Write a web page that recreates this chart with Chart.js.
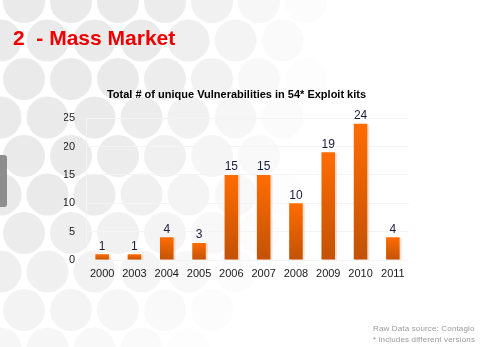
<!DOCTYPE html>
<html>
<head>
<meta charset="utf-8">
<title>Mass Market</title>
<script src="https://cdn.jsdelivr.net/npm/chart.js@4.4.1/dist/chart.umd.min.js"></script>
<style>
    html, body {
        margin: 0;
        padding: 0;
        width: 486px;
        height: 347px;
        overflow: hidden;
        background: #fff;
        font-family: "Liberation Sans", Arial, sans-serif;
    }
    #bubbles {
        position: absolute;
        left: 0;
        top: 0;
    }
    #tab {
        position: absolute;
        left: 0;
        top: 155px;
        width: 7px;
        height: 52px;
        background: #8e8e8e;
        border-radius: 0 3px 3px 0;
    }
    #heading {
        position: absolute;
        left: 13px;
        top: 26px;
        margin: 0;
        font-size: 21px;
        font-weight: bold;
        color: #ee0000;
        white-space: pre;
    }
    #chartBox {
        position: absolute;
        left: 50px;
        top: 80px;
        width: 380px;
        height: 215px;
    }
    #notes {
        position: absolute;
        left: 373px;
        top: 323px;
        font-size: 8px;
        line-height: 11px;
        letter-spacing: 0.15px;
        color: #9a9a9a;
    }
</style>
</head>
<body>
<canvas id="bubbles" width="486" height="347"></canvas>
<div id="tab"></div>
<h1 id="heading">2  - Mass Market</h1>
<div id="chartBox"><canvas id="vulnChart"></canvas></div>
<div id="notes">Raw Data source: Contagio<br>* includes different versions</div>

<script>
// Chart data
const years = ["2000", "2003", "2004", "2005", "2006", "2007", "2008", "2009", "2010", "2011"];
const vulnCounts = [1, 1, 4, 3, 15, 15, 10, 19, 24, 4];
const yTicks = [0, 5, 10, 15, 20, 25];

// Slide background: rows of grey bubbles fading out towards the bottom right
function drawBubbles() {
    const c = document.getElementById("bubbles").getContext("2d");
    const dx = 47, dy = 38.5, r = 21;
    for (let row = 0; row < 10; row++) {
        const cy = 2 + row * dy;
        const x0 = row % 2 === 0 ? 24 : 0.5;
        for (let cx = x0; cx < 520; cx += dx) {
            const t = Math.sqrt(Math.pow(cx / 330, 2) + Math.pow(cy / 460, 2));
            const alpha = Math.max(0, Math.min(1, (1 - t) / 0.55));
            if (alpha <= 0) continue;
            c.fillStyle = "rgba(234, 234, 234, " + alpha.toFixed(3) + ")";
            c.beginPath();
            c.arc(cx, cy, r, 0, Math.PI * 2);
            c.fill();
        }
    }
}
drawBubbles();

// Pale shadow along the right side of each bar
const barShadow = {
    id: "barShadow",
    beforeDatasetsDraw(chart) {
        const ctx = chart.ctx;
        const base = chart.scales.y.getPixelForValue(0);
        ctx.save();
        ctx.fillStyle = "rgba(235, 170, 130, 0.35)";
        chart.getDatasetMeta(0).data.forEach(function (bar) {
            ctx.fillRect(bar.x - bar.width / 2 + 2, bar.y + 1, bar.width, base - bar.y - 1);
        });
        ctx.restore();
    }
};

// Value printed above each bar
const valueLabels = {
    id: "valueLabels",
    afterDatasetsDraw(chart) {
        const ctx = chart.ctx;
        const meta = chart.getDatasetMeta(0);
        ctx.save();
        ctx.font = "12px 'Liberation Sans', Arial, sans-serif";
        ctx.fillStyle = "#1c1c40";
        ctx.textAlign = "center";
        ctx.textBaseline = "bottom";
        meta.data.forEach(function (bar, i) {
            ctx.fillText(String(chart.data.datasets[0].data[i]), bar.x, bar.y - 2);
        });
        ctx.restore();
    }
};

// Orange bar fill, bright at the top and darker at the base
function barGradient(context) {
    const chart = context.chart;
    if (!chart.chartArea) return "#ff6a00";
    const y = chart.scales.y;
    const top = y.getPixelForValue(context.raw);
    const bottom = y.getPixelForValue(0);
    const g = chart.ctx.createLinearGradient(0, top, 0, bottom);
    g.addColorStop(0, "#ff6c00");
    g.addColorStop(1, "#c25206");
    return g;
}

Chart.defaults.font.family = "'Liberation Sans', Arial, sans-serif";
Chart.defaults.color = "#1a1a1a";

new Chart(document.getElementById("vulnChart"), {
    type: "bar",
    data: {
        labels: years,
        datasets: [{
            label: "Vulnerabilities",
            data: vulnCounts,
            backgroundColor: barGradient,
            borderWidth: 0,
            barPercentage: 0.42,
            categoryPercentage: 1
        }]
    },
    options: {
        responsive: true,
        maintainAspectRatio: false,
        animation: false,
        layout: { padding: { left: 14, right: 21, top: 0, bottom: 15 } },
        plugins: {
            legend: { display: false },
            tooltip: { enabled: false },
            title: {
                display: true,
                text: "Total # of unique Vulnerabilities in 54* Exploit kits",
                color: "#000",
                font: { size: 11, weight: "bold" },
                padding: { top: 8, bottom: 17 }
            }
        },
        scales: {
            x: {
                grid: { display: false, drawTicks: false },
                border: { display: false },
                ticks: { font: { size: 11 }, padding: 7, maxRotation: 0 },
                afterFit: function (scale) { scale.height = 20; }
            },
            y: {
                min: yTicks[0],
                max: yTicks[yTicks.length - 1],
                afterBuildTicks: function (scale) {
                    scale.ticks = yTicks.map(function (v) { return { value: v }; });
                },
                grid: { color: "#f4f4f4", drawTicks: false },
                border: { display: true, color: "#f4f4f4" },
                ticks: { font: { size: 11 }, padding: 11 },
                afterFit: function (scale) { scale.width = 22; }
            }
        }
    },
    plugins: [barShadow, valueLabels]
});
</script>
</body>
</html>
